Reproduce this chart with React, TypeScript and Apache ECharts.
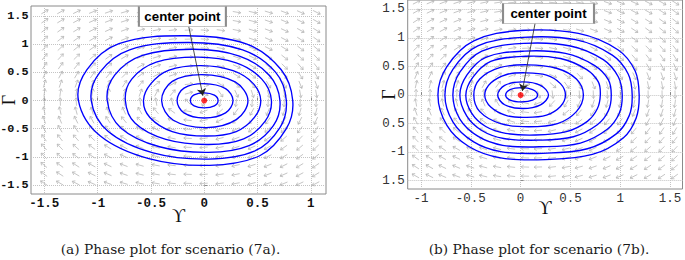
import React, { useEffect, useRef } from "react";
import * as echarts from "echarts";

// ---------------- data ----------------
const leftXTicks = [-1.5, -1, -0.5, 0, 0.5, 1];
const rightXTicks = [-1, -0.5, 0, 0.5, 1, 1.5];
const yTicks = [-1.5, -1, -0.5, 0, 0.5, 1, 1.5];
// right panel: the minus signs of -1.5 and -0.5 are not visible in the reference
const rightYTickText: Record<string, string> = {
  "-1.5": "1.5", "-1": "-1", "-0.5": "0.5", "0": "0", "0.5": "0.5", "1": "1", "1.5": "1.5",
};

const captionA = "(a) Phase plot for scenario (7a).";
const captionB = "(b) Phase plot for scenario (7b).";
const calloutText = "center point";
const xName = "ϒ";
const yName = "Γ";

const centerPoint = [0, 0];

// closed trajectories, scenario 7a (inner -> outer)
const leftOrbits: number[][][] = [
  [[-0.13, 0], [-0.095, 0.1], [0, 0.137], [0.095, 0.095], [0.13, 0], [0.095, -0.095], [0, -0.13], [-0.095, -0.095]],
  [[-0.255, 0], [-0.19, 0.22], [0, 0.3], [0.2, 0.21], [0.27, 0], [0.2, -0.22], [0, -0.31], [-0.19, -0.22]],
  [[-0.4, 0], [-0.3, 0.34], [-0.02, 0.46], [0.29, 0.33], [0.41, 0], [0.3, -0.34], [0.02, -0.48], [-0.29, -0.35]],
  [[-0.57, 0], [-0.5, 0.3], [-0.33, 0.54], [-0.03, 0.62], [0.27, 0.53], [0.46, 0.3], [0.53, 0], [0.47, -0.3], [0.3, -0.55], [0.02, -0.63], [-0.3, -0.55], [-0.51, -0.3]],
  [[-0.74, 0], [-0.68, 0.38], [-0.45, 0.68], [-0.06, 0.77], [0.3, 0.67], [0.54, 0.38], [0.63, 0], [0.57, -0.37], [0.37, -0.68], [0.04, -0.78], [-0.36, -0.69], [-0.65, -0.4]],
  [[-0.91, 0], [-0.84, 0.45], [-0.58, 0.8], [-0.1, 0.91], [0.33, 0.79], [0.61, 0.45], [0.71, 0], [0.65, -0.44], [0.42, -0.8], [0.04, -0.92], [-0.42, -0.82], [-0.78, -0.49]],
  [[-1.06, 0], [-0.98, 0.5], [-0.7, 0.9], [-0.15, 1.03], [0.36, 0.9], [0.67, 0.5], [0.77, 0], [0.71, -0.48], [0.47, -0.9], [0.04, -1.04], [-0.48, -0.93], [-0.9, -0.55]],
  [[-1.18, 0], [-1.1, 0.55], [-0.8, 1.01], [-0.18, 1.15], [0.4, 1.0], [0.72, 0.55], [0.83, 0], [0.77, -0.5], [0.52, -0.98], [0.05, -1.15], [-0.52, -1.03], [-0.98, -0.62]],
];

// closed trajectories, scenario 7b (inner -> outer)
const rightOrbits: number[][][] = [
  [[-0.15, 0], [-0.105, 0.095], [0.01, 0.13], [0.12, 0.095], [0.17, 0], [0.12, -0.09], [0.01, -0.12], [-0.105, -0.088]],
  [[-0.23, 0], [-0.16, 0.17], [0.02, 0.23], [0.2, 0.17], [0.28, 0], [0.2, -0.17], [0.02, -0.235], [-0.16, -0.17]],
  [[-0.36, 0], [-0.3, 0.21], [-0.14, 0.36], [0.05, 0.39], [0.26, 0.35], [0.4, 0.2], [0.45, 0], [0.4, -0.2], [0.26, -0.35], [0.05, -0.39], [-0.14, -0.36], [-0.3, -0.21]],
  [[-0.47, 0], [-0.41, 0.28], [-0.21, 0.48], [0.07, 0.53], [0.36, 0.47], [0.56, 0.28], [0.63, 0], [0.56, -0.29], [0.37, -0.5], [0.08, -0.555], [-0.2, -0.5], [-0.41, -0.29]],
  [[-0.55, 0], [-0.48, 0.31], [-0.3, 0.59], [0.05, 0.68], [0.4, 0.64], [0.66, 0.45], [0.78, 0.23], [0.8, 0], [0.77, -0.24], [0.67, -0.46], [0.46, -0.64], [0.15, -0.7], [-0.15, -0.67], [-0.35, -0.55], [-0.49, -0.32]],
  [[-0.61, 0], [-0.54, 0.35], [-0.35, 0.66], [0.04, 0.77], [0.45, 0.73], [0.74, 0.52], [0.88, 0.27], [0.91, 0], [0.88, -0.28], [0.77, -0.52], [0.53, -0.73], [0.18, -0.79], [-0.17, -0.76], [-0.39, -0.62], [-0.54, -0.37]],
  [[-0.68, 0], [-0.61, 0.4], [-0.39, 0.77], [0.03, 0.905], [0.5, 0.86], [0.83, 0.62], [0.98, 0.32], [1.02, 0], [0.99, -0.32], [0.87, -0.6], [0.6, -0.84], [0.2, -0.905], [-0.18, -0.88], [-0.43, -0.72], [-0.61, -0.42]],
  [[-0.76, 0], [-0.68, 0.45], [-0.43, 0.86], [0.02, 1.01], [0.55, 0.97], [0.92, 0.7], [1.08, 0.37], [1.12, 0], [1.09, -0.36], [0.96, -0.68], [0.67, -0.94], [0.22, -1.02], [-0.2, -0.99], [-0.48, -0.81], [-0.68, -0.47]],
  [[-0.83, 0], [-0.74, 0.5], [-0.47, 0.95], [0.0, 1.13], [0.58, 1.08], [0.98, 0.79], [1.15, 0.42], [1.19, 0], [1.16, -0.4], [1.03, -0.75], [0.72, -1.04], [0.25, -1.13], [-0.2, -1.1], [-0.52, -0.9], [-0.74, -0.53]],
];

// direction field sample grid, scenario 7a
const leftFieldX = [-1.5, -1.35, -1.2, -1.05, -0.9, -0.75, -0.6, -0.45, -0.3, -0.15, 0, 0.15, 0.3, 0.45, 0.6, 0.75, 0.9, 1.05];
const leftFieldY = [1.57, 1.41, 1.25, 1.09, 0.93, 0.77, 0.61, 0.45, 0.29, 0.13, -0.03, -0.19, -0.35, -0.51, -0.67, -0.83, -0.99, -1.15, -1.31, -1.47];
// arrow directions on screen, degrees (0 = right, 90 = up)
const leftFieldAngle = [
  [31, 29, 26, 22, 19, 16, 12, 8, 5, 1, -3, -6, -10, -13, -17, -21, -24, -27],
  [34, 31, 28, 24, 21, 18, 14, 9, 6, 1, -3, -7, -11, -15, -19, -23, -26, -29],
  [38, 35, 31, 27, 24, 20, 15, 11, 7, 2, -3, -8, -12, -17, -21, -25, -29, -32],
  [42, 38, 35, 31, 27, 22, 17, 12, 7, 2, -4, -9, -14, -19, -24, -28, -33, -36],
  [46, 43, 39, 35, 31, 26, 20, 14, 9, 2, -4, -11, -16, -22, -27, -32, -37, -40],
  [52, 48, 44, 40, 36, 30, 24, 17, 11, 3, -5, -13, -19, -26, -32, -38, -42, -46],
  [58, 55, 51, 47, 42, 36, 29, 21, 13, 3, -7, -16, -24, -32, -38, -44, -49, -52],
  [65, 62, 59, 55, 51, 45, 37, 27, 18, 5, -9, -22, -31, -40, -47, -53, -57, -60],
  [74, 72, 69, 66, 63, 57, 50, 39, 27, 7, -14, -32, -43, -53, -59, -64, -68, -70],
  [83, 82, 81, 79, 77, 74, 70, 62, 49, 16, -30, -55, -65, -72, -75, -78, -80, -81],
  [92, 92, 93, 93, 94, 95, 96, 99, 104, 135, -117, -101, -98, -95, -94, -93, -93, -93],
  [102, 103, 105, 107, 110, 114, 120, 130, 144, 170, -160, -138, -126, -118, -112, -108, -106, -104],
  [110, 113, 116, 119, 123, 129, 137, 147, 158, 174, -169, -153, -143, -134, -127, -121, -117, -114],
  [118, 121, 125, 129, 133, 139, 147, 156, 165, 176, -172, -161, -153, -144, -137, -131, -127, -123],
  [125, 128, 132, 137, 141, 147, 153, 161, 168, 177, -174, -165, -159, -151, -145, -139, -134, -131],
  [131, 134, 138, 143, 147, 152, 158, 165, 170, 178, -175, -168, -162, -156, -150, -145, -140, -137],
  [136, 139, 143, 147, 151, 156, 161, 167, 172, 178, -176, -170, -165, -159, -154, -150, -145, -142],
  [140, 144, 147, 151, 155, 159, 164, 169, 173, 178, -177, -171, -167, -162, -158, -153, -149, -146],
  [144, 147, 150, 154, 157, 161, 166, 170, 174, 178, -177, -172, -169, -164, -160, -156, -152, -149],
  [147, 150, 153, 157, 160, 163, 167, 171, 175, 179, -177, -173, -170, -166, -162, -158, -155, -152],
];

// direction field sample grid, scenario 7b
const rightFieldX = [-1.05, -0.91, -0.78, -0.64, -0.5, -0.37, -0.23, -0.09, 0.05, 0.18, 0.32, 0.46, 0.59, 0.73, 0.87, 1.0, 1.14, 1.28, 1.42, 1.55];
const rightFieldY = [1.62, 1.46, 1.3, 1.14, 0.98, 0.82, 0.66, 0.5, 0.34, 0.18, 0.02, -0.14, -0.3, -0.46, -0.62, -0.78, -0.94, -1.1, -1.26, -1.42];
const rightFieldAngle = [
  [27, 23, 21, 18, 15, 12, 8, 5, 1, -2, -6, -9, -12, -15, -19, -21, -24, -27, -29, -32],
  [29, 26, 23, 20, 16, 13, 9, 5, 1, -2, -6, -10, -13, -17, -20, -23, -27, -29, -32, -35],
  [32, 28, 25, 22, 18, 14, 10, 6, 2, -2, -7, -11, -15, -19, -23, -26, -30, -32, -35, -38],
  [35, 31, 28, 25, 20, 16, 11, 7, 2, -3, -8, -12, -17, -21, -25, -29, -33, -36, -39, -42],
  [39, 35, 32, 28, 23, 19, 13, 8, 2, -3, -9, -14, -20, -24, -29, -33, -37, -40, -43, -46],
  [44, 40, 37, 33, 27, 22, 16, 10, 2, -4, -11, -17, -23, -28, -33, -38, -42, -45, -48, -51],
  [51, 47, 43, 39, 32, 27, 19, 12, 3, -5, -13, -20, -28, -34, -39, -44, -48, -51, -54, -57],
  [58, 54, 51, 46, 40, 34, 24, 16, 4, -6, -17, -26, -35, -41, -47, -52, -56, -59, -61, -64],
  [67, 64, 61, 57, 51, 44, 34, 22, 6, -9, -25, -36, -46, -52, -58, -62, -65, -68, -70, -71],
  [77, 76, 74, 71, 67, 61, 52, 38, 11, -16, -41, -54, -63, -68, -72, -74, -76, -78, -79, -80],
  [89, 88, 88, 88, 87, 87, 85, 82, 61, -70, -83, -86, -87, -88, -88, -88, -89, -89, -89, -89],
  [100, 101, 103, 105, 108, 113, 122, 135, 166, -159, -132, -120, -112, -108, -105, -103, -101, -100, -99, -98],
  [110, 113, 116, 120, 126, 132, 143, 155, 173, -170, -152, -141, -131, -124, -119, -115, -112, -110, -108, -106],
  [120, 123, 127, 131, 138, 144, 154, 163, 176, -174, -161, -152, -143, -137, -130, -126, -122, -119, -117, -114],
  [128, 132, 135, 140, 146, 152, 160, 167, 177, -175, -166, -158, -151, -145, -139, -135, -130, -127, -124, -121],
  [134, 138, 142, 146, 152, 157, 164, 170, 177, -176, -169, -163, -156, -151, -145, -141, -137, -133, -131, -128],
  [139, 143, 147, 151, 156, 161, 166, 172, 178, -177, -171, -165, -160, -155, -150, -146, -142, -139, -136, -133],
  [144, 148, 151, 155, 159, 163, 168, 173, 178, -177, -172, -167, -162, -158, -154, -150, -146, -143, -140, -137],
  [147, 151, 154, 157, 162, 165, 170, 174, 178, -178, -173, -169, -165, -161, -157, -153, -150, -147, -144, -141],
  [150, 154, 157, 160, 164, 167, 171, 174, 179, -178, -174, -170, -166, -163, -159, -156, -153, -150, -147, -144],
];

// callout anchors (data coordinates)
const leftCallout = { box: [-0.205, 1.49], from: [-0.145, 1.31], to: [-0.013, 0.085] };
const rightCallout = { box: [0.28, 1.43], from: [0.145, 1.256], to: [0.017, 0.07] };

// ---------------- styling ----------------
const ORBIT_COLOR = "#0000ff";
const ARROW_COLOR = "#b4b4b4";
const FRAME_COLOR = "#8a8a8a";
const GRID_COLOR = "#c4c4c4";
const MONO = "'Liberation Mono', 'DejaVu Sans Mono', monospace";
const SERIF = "'Liberation Serif', 'DejaVu Serif', serif";
const CAPTION_FONT = "'DejaVu Serif', serif";

function fieldData(xs: number[], ys: number[], ang: number[][]) {
  const out: number[][] = [];
  ys.forEach((y, j) => xs.forEach((x, i) => out.push([x, y, ang[j][i]])));
  return out;
}

const renderArrow = (_params: any, api: any) => {
  const p = api.coord([api.value(0), api.value(1)]);
  const a = (api.value(2) * Math.PI) / 180;
  return {
    type: "group",
    x: p[0],
    y: p[1],
    rotation: a,
    silent: true,
    children: [
      { type: "line", shape: { x1: -3.5, y1: 0, x2: 4.5, y2: 0 }, style: { stroke: ARROW_COLOR, lineWidth: 0.7 } },
      {
        type: "polyline",
        shape: { points: [[2, -1.8], [4.5, 0], [2, 1.8]] },
        style: { stroke: ARROW_COLOR, lineWidth: 0.7, fill: "none" },
      },
    ],
  };
};

const orbitRenderer = (orbits: number[][][]) => (params: any, api: any) => {
  const pts = orbits[params.dataIndex].map((p) => api.coord(p));
  return {
    type: "polygon",
    silent: true,
    shape: { points: pts, smooth: 0.36 },
    style: { fill: "none", stroke: ORBIT_COLOR, lineWidth: 1.35 },
  };
};

function xAxisCfg(gridIndex: number, min: number, max: number, ticks: number[], bold: boolean, nameGap: number) {
  return {
    type: "value",
    gridIndex,
    min,
    max,
    axisLine: { show: false },
    axisTick: { show: true, inside: true, length: 3, customValues: ticks, lineStyle: { color: FRAME_COLOR } },
    splitLine: { show: true, lineStyle: { color: GRID_COLOR, type: "dotted", width: 1 } },
    axisLabel: {
      customValues: ticks,
      formatter: (v: number) => String(v),
      fontFamily: MONO,
      fontWeight: bold ? "bold" : "normal",
      fontSize: 12.5,
      color: bold ? "#111" : "#333",
      margin: 3,
    },
    name: xName,
    nameLocation: "middle",
    nameGap,
    nameMoveOverlap: false,
    nameTextStyle: { fontFamily: SERIF, fontSize: 18, color: "#111" },
  };
}

function yAxisCfg(
  gridIndex: number, min: number, max: number, bold: boolean,
  fmt: (v: number) => string, nameGap: number, fontSize: number, margin: number,
) {
  return {
    type: "value",
    gridIndex,
    min,
    max,
    axisLine: { show: false },
    axisTick: { show: true, inside: true, length: 3, customValues: yTicks, lineStyle: { color: FRAME_COLOR } },
    splitLine: { show: true, lineStyle: { color: GRID_COLOR, type: "dotted", width: 1 } },
    axisLabel: {
      customValues: yTicks,
      formatter: fmt,
      fontFamily: MONO,
      fontWeight: bold ? "bold" : "normal",
      fontSize,
      color: bold ? "#111" : "#333",
      margin,
    },
    name: yName,
    nameLocation: "middle",
    nameRotate: 90,
    nameGap,
    nameMoveOverlap: false,
    nameTextStyle: { fontFamily: SERIF, fontSize: 18, color: "#111" },
  };
}

function centerSeries(axisIndex: number, callout: { box: number[]; from: number[]; to: number[] }, boxW: number) {
  return {
    type: "scatter",
    xAxisIndex: axisIndex,
    yAxisIndex: axisIndex,
    data: [centerPoint],
    symbol: "circle",
    symbolSize: 6,
    itemStyle: { color: "#ff0000" },
    z: 6,
    silent: true,
    markLine: {
      silent: true,
      symbol: ["none", "arrow"],
      symbolSize: 7,
      label: { show: false },
      lineStyle: { color: "#222", width: 0.8, type: "solid" },
      data: [[{ coord: callout.from }, { coord: callout.to }]],
      z: 7,
    },
    markPoint: {
      silent: true,
      z: 8,
      data: [
        {
          coord: callout.box,
          symbol: "rect",
          symbolSize: [boxW, 20],
          itemStyle: { color: "#ffffff", borderColor: "#8c8c8c", borderWidth: 1 },
          label: {
            show: true,
            position: "inside",
            formatter: calloutText,
            fontFamily: "'Liberation Sans', Arial, sans-serif",
            fontWeight: "bold",
            fontSize: 13.3,
            color: "#000",
          },
        },
      ],
    },
  };
}

export default function App() {
  const ref = useRef<HTMLDivElement>(null);

  useEffect(() => {
    if (!ref.current) return;
    const chart = echarts.init(ref.current, undefined, { renderer: "svg" });
    const option: any = {
      animation: false,
      backgroundColor: "#ffffff",
      grid: [
        { left: 31, top: 6, width: 295, height: 188, show: true, borderColor: FRAME_COLOR, borderWidth: 1, backgroundColor: "#fff", outerBoundsMode: "none", containLabel: false },
        { left: 407.7, top: 0, width: 274.8, height: 189, show: true, borderColor: FRAME_COLOR, borderWidth: 1, backgroundColor: "#fff", outerBoundsMode: "none", containLabel: false },
      ],
      xAxis: [
        xAxisCfg(0, -1.625, 1.142, leftXTicks, true, 13),
        xAxisCfg(1, -1.1335, 1.625, rightXTicks, false, 9.5),
      ],
      yAxis: [
        yAxisCfg(0, -1.659, 1.678, true, (v: number) => String(v), 13, 11.8, 2.5),
        yAxisCfg(1, -1.645, 1.665, false, (v: number) => rightYTickText[String(v)] ?? String(v), 10, 12.5, 3),
      ],
      series: [
        {
          type: "custom",
          xAxisIndex: 0,
          yAxisIndex: 0,
          renderItem: renderArrow,
          data: fieldData(leftFieldX, leftFieldY, leftFieldAngle),
          encode: { x: 0, y: 1 },
          silent: true,
          z: 1,
        },
        {
          type: "custom",
          xAxisIndex: 1,
          yAxisIndex: 1,
          renderItem: renderArrow,
          data: fieldData(rightFieldX, rightFieldY, rightFieldAngle),
          encode: { x: 0, y: 1 },
          silent: true,
          z: 1,
        },
        {
          type: "custom",
          xAxisIndex: 0,
          yAxisIndex: 0,
          renderItem: orbitRenderer(leftOrbits),
          data: leftOrbits.map((o) => [o[0][0], o[0][1]]),
          encode: { x: 0, y: 1 },
          silent: true,
          z: 3,
        },
        {
          type: "custom",
          xAxisIndex: 1,
          yAxisIndex: 1,
          renderItem: orbitRenderer(rightOrbits),
          data: rightOrbits.map((o) => [o[0][0], o[0][1]]),
          encode: { x: 0, y: 1 },
          silent: true,
          z: 3,
        },
        centerSeries(0, leftCallout, 87),
        centerSeries(1, rightCallout, 91),
      ],
      graphic: [
        {
          type: "text",
          x: 170.5,
          y: 249,
          silent: true,
          style: { text: captionA, fontFamily: CAPTION_FONT, fontSize: 13.7, fill: "#1a1a1a", align: "center", verticalAlign: "middle" },
        },
        {
          type: "text",
          x: 539,
          y: 249,
          silent: true,
          style: { text: captionB, fontFamily: CAPTION_FONT, fontSize: 13.7, fill: "#1a1a1a", align: "center", verticalAlign: "middle" },
        },
      ],
    };
    chart.setOption(option);
    return () => chart.dispose();
  }, []);

  return (
    <div
      ref={ref}
      style={{ position: "absolute", left: 0, top: 0, width: 685, height: 260, background: "#fff" }}
    />
  );
}
